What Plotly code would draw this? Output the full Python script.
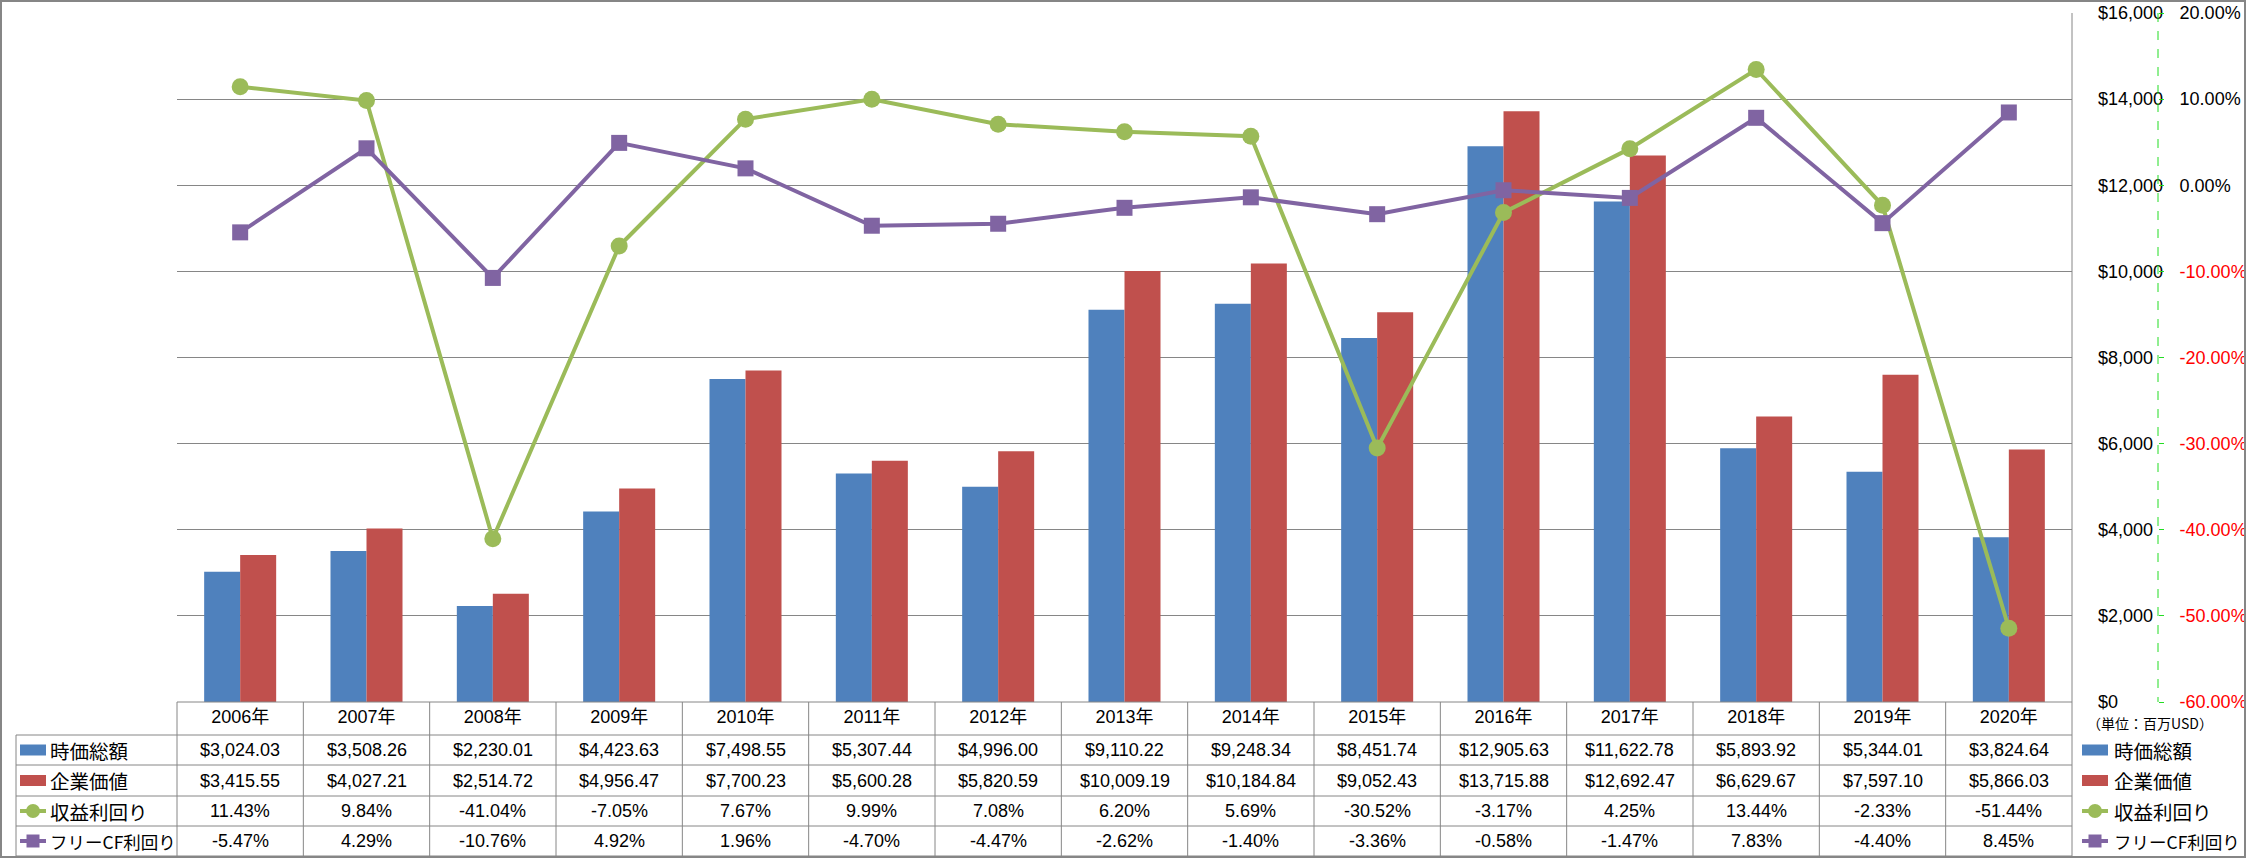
import plotly.graph_objects as go

# ---------------- data ----------------
years = ["2006年", "2007年", "2008年", "2009年", "2010年", "2011年", "2012年", "2013年",
         "2014年", "2015年", "2016年", "2017年", "2018年", "2019年", "2020年"]
market_cap = [3024.03, 3508.26, 2230.01, 4423.63, 7498.55, 5307.44, 4996.00, 9110.22,
              9248.34, 8451.74, 12905.63, 11622.78, 5893.92, 5344.01, 3824.64]
enterprise_value = [3415.55, 4027.21, 2514.72, 4956.47, 7700.23, 5600.28, 5820.59, 10009.19,
                    10184.84, 9052.43, 13715.88, 12692.47, 6629.67, 7597.10, 5866.03]
earnings_yield = [11.43, 9.84, -41.04, -7.05, 7.67, 9.99, 7.08, 6.20, 5.69, -30.52,
                  -3.17, 4.25, 13.44, -2.33, -51.44]
fcf_yield = [-5.47, 4.29, -10.76, 4.92, 1.96, -4.70, -4.47, -2.62, -1.40, -3.36,
             -0.58, -1.47, 7.83, -4.40, 8.45]

series_names = ["時価総額", "企業価値", "収益利回り", "フリーCF利回り"]
usd_ticks = [0, 2000, 4000, 6000, 8000, 10000, 12000, 14000, 16000]
pct_ticks = [-60, -50, -40, -30, -20, -10, 0, 10, 20]
unit_label = "（単位：百万USD）"

BLUE, RED, GREEN, PURPLE = "#4F81BD", "#C0504D", "#9BBB59", "#8064A2"
GRID = "#868686"
LATIN = "Liberation Sans, Arial, Noto Sans CJK JP"
CJK = "Noto Sans CJK JP, Liberation Sans"

W, H = 2246, 858
PL, PR, PT, PB = 177, 2072, 13, 702          # plot area (px)
ROW_LINES = [702, 735, 765, 796, 826, 856]     # table row borders
ROW_CENTERS = [(ROW_LINES[i] + ROW_LINES[i + 1]) / 2 for i in range(5)]
LBL_LEFT = 16
AX2_X = 2158


def px(x):
    return x / W


def py(y):
    return 1 - y / H


fig = go.Figure()
fig.add_trace(go.Bar(x=years, y=market_cap, name=series_names[0], marker_color=BLUE,
                     marker_line_width=0))
fig.add_trace(go.Bar(x=years, y=enterprise_value, name=series_names[1], marker_color=RED,
                     marker_line_width=0))
fig.add_trace(go.Scatter(x=years, y=earnings_yield, name=series_names[2], yaxis="y2",
                         mode="lines+markers", line=dict(color=GREEN, width=4),
                         marker=dict(symbol="circle", size=17, color=GREEN)))
fig.add_trace(go.Scatter(x=years, y=fcf_yield, name=series_names[3], yaxis="y2",
                         mode="lines+markers", line=dict(color=PURPLE, width=4),
                         marker=dict(symbol="square", size=16, color=PURPLE)))

usd_text = [f"${v:,}" for v in usd_ticks]
pct_text = []
for v in pct_ticks:
    s = f"{v:.2f}%"
    if v < 0:
        s = f'<span style="color:#FF0000">{s}</span>'
    pct_text.append(s)

shapes = []


def line(x0, y0, x1, y1, color=GRID, width=1, dash="solid"):
    shapes.append(dict(type="line", xref="paper", yref="paper", x0=px(x0), y0=py(y0),
                       x1=px(x1), y1=py(y1), line=dict(color=color, width=width, dash=dash)))


# outer chart border
shapes.append(dict(type="rect", xref="paper", yref="paper", x0=px(1), y0=py(1), x1=px(2245),
                   y1=py(857), line=dict(color=GRID, width=2)))
# table horizontal lines
line(PL, ROW_LINES[0], PR, ROW_LINES[0])
for yy in ROW_LINES[1:]:
    line(LBL_LEFT, yy, PR, yy)
# table vertical lines
line(LBL_LEFT, ROW_LINES[1], LBL_LEFT, ROW_LINES[-1])
n = len(years)
cw = (PR - PL) / n
for k in range(n):
    xx = PL + cw * k
    line(xx, ROW_LINES[0], xx, ROW_LINES[-1])
line(PR, PT, PR, ROW_LINES[-1])
# secondary axis dashed line
line(AX2_X, PT, AX2_X, PB, color="#22DD22", width=1, dash="dash")

annotations = []


def legend_key(x0, yc, idx):
    colors = [BLUE, RED, GREEN, PURPLE]
    c = colors[idx]
    if idx < 2:
        shapes.append(dict(type="rect", xref="paper", yref="paper", x0=px(x0), x1=px(x0 + 26),
                           y0=py(yc - 5.5), y1=py(yc + 5.5), line=dict(width=0), fillcolor=c))
    else:
        line(x0, yc, x0 + 26, yc, color=c, width=4)
        r = 7 if idx == 2 else 6.5
        shapes.append(dict(type="circle" if idx == 2 else "rect", xref="paper", yref="paper",
                           x0=px(x0 + 13 - r), x1=px(x0 + 13 + r), y0=py(yc - r), y1=py(yc + r),
                           line=dict(width=0), fillcolor=c))


for i, name in enumerate(series_names):
    yc = ROW_CENTERS[i + 1]
    fs = 17.5 if len(name) > 6 else 19.5
    # left table labels
    legend_key(20, yc, i)
    annotations.append(dict(xref="paper", yref="paper", x=px(48), y=py(yc), text=name,
                            showarrow=False, xanchor="left", yanchor="middle",
                            font=dict(family=CJK, size=fs, color="#000000")))
    # right legend
    legend_key(2082, yc, i)
    annotations.append(dict(xref="paper", yref="paper", x=px(2112), y=py(yc), text=name,
                            showarrow=False, xanchor="left", yanchor="middle",
                            font=dict(family=CJK, size=fs, color="#000000")))

annotations.append(dict(xref="paper", yref="paper", x=px(2085), y=py(723), text=unit_label,
                        showarrow=False, xanchor="left", yanchor="middle",
                        font=dict(family=CJK, size=14, color="#000000")))

rows = [[f"${v:,.2f}" for v in market_cap],
        [f"${v:,.2f}" for v in enterprise_value],
        [f"{v:.2f}%" for v in earnings_yield],
        [f"{v:.2f}%" for v in fcf_yield]]
for r, vals in enumerate(rows):
    for i, t in enumerate(vals):
        annotations.append(dict(xref="x", yref="paper", x=years[i], y=py(ROW_CENTERS[r + 1]),
                                text=t, showarrow=False, xanchor="center", yanchor="middle",
                                font=dict(family=LATIN, size=18, color="#000000")))

fig.update_layout(
    width=W, height=H, margin=dict(l=0, r=0, t=0, b=0),
    paper_bgcolor="white", plot_bgcolor="white",
    barmode="group", bargap=0.43, bargroupgap=0,
    showlegend=False,
    xaxis=dict(domain=[px(PL), px(PR)], type="category", range=[-0.5, len(years) - 0.5],
               showgrid=False, showline=False,
               zeroline=False, ticks="", ticklabelstandoff=2, automargin=False,
               tickfont=dict(family=LATIN, size=18, color="#000000")),
    yaxis=dict(domain=[py(PB), py(PT)], range=[0, 16000], tickvals=usd_ticks,
               ticktext=usd_text, side="right", showgrid=True, gridcolor=GRID,
               gridwidth=1, zeroline=False, showline=False, ticks="", ticklabelstandoff=25,
               automargin=False, tickfont=dict(family=LATIN, size=18, color="#000000")),
    yaxis2=dict(overlaying="y", anchor="free", position=px(AX2_X), side="right",
                range=[-60, 20], tickvals=pct_ticks, ticktext=pct_text, showgrid=False,
                zeroline=False, showline=False, ticks="outside", ticklen=5, tickcolor="#22DD22",
                ticklabelstandoff=12, automargin=False,
                tickfont=dict(family=LATIN, size=18, color="#000000")),
    shapes=shapes, annotations=annotations,
)

fig.write_html("out.html", config={"displayModeBar": False},
               post_script="document.body.style.margin='0px';")
